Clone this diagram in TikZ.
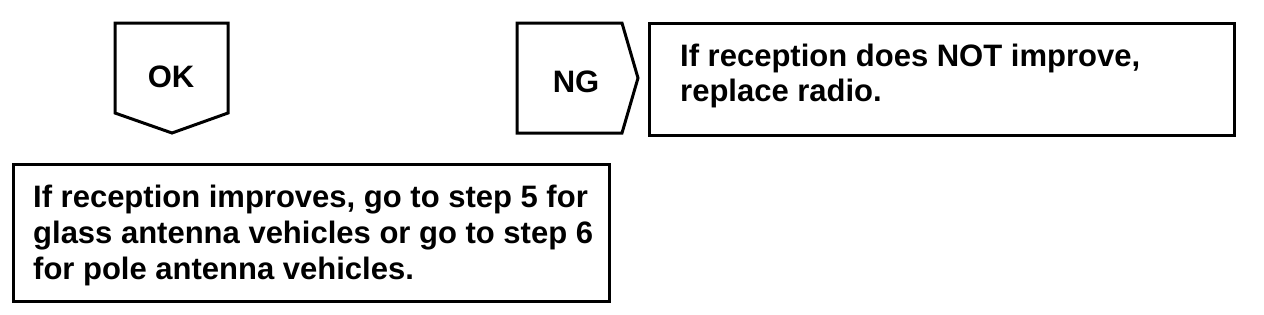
\documentclass[tikz,border=0pt]{standalone}
\usepackage{fontspec}
\setmainfont{Liberation Sans}
\begin{document}
\begin{tikzpicture}[x=1pt,y=-1pt,
  outline/.style={line width=3pt,line join=miter},
  txt/.style={font=\bfseries\fontsize{31}{36}\selectfont,inner sep=0pt,anchor=base west},
  lbl/.style={font=\bfseries\fontsize{31}{34}\selectfont,inner sep=0pt}]
\useasboundingbox (0,0) rectangle (1264,314);
% OK tag
\draw[outline] (115,23) -- (228,23) -- (228,113) -- (172,133) -- (115,113) -- cycle;
\node[lbl] (ok) at (171,77) {OK};
% NG tag
\draw[outline] (517,23) -- (622,23) -- (638,78) -- (622,133) -- (517,133) -- cycle;
\node[lbl] (ng) at (576,82) {NG};
% right box
\node[outline,draw,minimum width=585pt,minimum height=112pt,anchor=north west,inner sep=0pt] (ngbox) at (648,22) {};
\node[txt] (ng1) at (680,66) {If reception does NOT improve,};
\node[txt] (ng2) at (680,101) {replace radio.};
% bottom box
\node[outline,draw,minimum width=596pt,minimum height=137pt,anchor=north west,inner sep=0pt] (okbox) at (12,163) {};
\node[txt] (ok1) at (33,207) {If reception improves, go to step 5 for};
\node[txt] (ok2) at (33,243) {glass antenna vehicles or go to step 6};
\node[txt] (ok3) at (33,279) {for pole antenna vehicles.};
\end{tikzpicture}
\end{document}
